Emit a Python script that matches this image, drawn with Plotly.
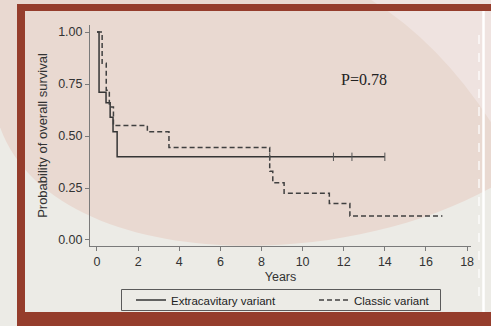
import plotly.graph_objects as go

# ---------------- data ----------------
ext_times = [0, 0.10, 0.44, 0.64, 0.78, 0.98, 14.0]
ext_surv = [1.00, 0.71, 0.66, 0.59, 0.52, 0.40, 0.40]
ext_censor_times = [8.4, 11.5, 12.4, 14.0]
ext_censor_surv = [0.40, 0.40, 0.40, 0.40]

cls_times = [0, 0.25, 0.45, 0.60, 0.80, 2.45, 3.50, 8.40, 8.55, 9.10, 11.30, 12.30, 16.8]
cls_surv = [1.00, 0.85, 0.72, 0.64, 0.55, 0.52, 0.445, 0.33, 0.275, 0.225, 0.175, 0.115, 0.115]

x_ticks = [0, 2, 4, 6, 8, 10, 12, 14, 16, 18]
y_ticks = [0, 0.25, 0.5, 0.75, 1.0]
y_tick_labels = ["0.00", "0.25", "0.50", "0.75", "1.00"]

series_names = ["Extracavitary variant", "Classic variant"]
p_text = "P=0.78"

# ---------------- layout helpers ----------------
W, H = 491, 326
L, R, T, B = 90, 20, 25, 80
PW, PH = W - L - R, H - T - B


def px(x):
    return (x - L) / PW


def py(y):
    return (H - B - y) / PH


def P(x, y):
    return f"{px(x):.4f},{py(y):.4f}"


PINK = "#e9d9d1"
LIGHTPINK = "#efe3e0"
GRAY = "#ecebe6"
BROWN = "#953d2c"

shapes = [
    # big pink region
    dict(type="path", xref="paper", yref="paper", layer="below", line_width=0,
         fillcolor=PINK,
         path=f"M {P(-5,110)} C {P(30,270)} {P(330,280)} {P(496,185)} L {P(496,-5)} L {P(-5,-5)} Z"),
    # lighter top-right region
    dict(type="path", xref="paper", yref="paper", layer="below", line_width=0,
         fillcolor=LIGHTPINK,
         path=f"M {P(363,-5)} Q {P(440,40)} {P(496,130)} L {P(496,-5)} Z"),
    # white vertical lines on the right
    dict(type="line", xref="paper", yref="paper", layer="below",
         x0=px(479), x1=px(479), y0=py(35), y1=py(300),
         line=dict(color="#ffffff", width=1.2, dash="dash")),
    dict(type="line", xref="paper", yref="paper", layer="below",
         x0=px(483.5), x1=px(483.5), y0=py(11), y1=py(312),
         line=dict(color="#ffffff", width=2.5)),
    # brown frame
    dict(type="rect", xref="paper", yref="paper", layer="below", line_width=0,
         fillcolor=BROWN, x0=px(17), x1=px(496), y0=py(4), y1=py(11)),
    dict(type="rect", xref="paper", yref="paper", layer="below", line_width=0,
         fillcolor=BROWN, x0=px(17), x1=px(25), y0=py(4), y1=py(330)),
    dict(type="rect", xref="paper", yref="paper", layer="below", line_width=0,
         fillcolor=BROWN, x0=px(17), x1=px(496), y0=py(312), y1=py(330)),
    # legend box outline
    dict(type="rect", xref="paper", yref="paper", layer="below",
         fillcolor="rgba(0,0,0,0)", line=dict(color="#5a5a5a", width=1),
         x0=px(121.5), x1=px(440.5), y0=py(289.5), y1=py(310.5)),
]

fig = go.Figure()
fig.add_trace(go.Scatter(
    x=ext_times, y=ext_surv, mode="lines", line_shape="hv",
    name=series_names[0], line=dict(color="#353535", width=1.5)))
fig.add_trace(go.Scatter(
    x=cls_times, y=cls_surv, mode="lines", line_shape="hv",
    name=series_names[1], line=dict(color="#404040", width=1.5, dash="5px,3px")))
fig.add_trace(go.Scatter(
    x=ext_censor_times, y=ext_censor_surv, mode="markers", showlegend=False,
    marker=dict(symbol="line-ns-open", size=6, color="#555555",
                line=dict(color="#555555", width=1))))

font_sans = "Liberation Sans, Arial, sans-serif"

fig.update_layout(
    width=W, height=H,
    margin=dict(l=L, r=R, t=T, b=B, pad=0, autoexpand=False),
    paper_bgcolor=GRAY,
    plot_bgcolor="rgba(0,0,0,0)",
    shapes=shapes,
    font=dict(family=font_sans, size=12, color="#333333"),
    xaxis=dict(range=[-0.34, 18.19], tickvals=x_ticks, showgrid=False, zeroline=False,
               automargin=False,
               showline=True, linecolor="#7a7a7a", linewidth=1,
               ticks="outside", ticklen=4, tickcolor="#7a7a7a",
               tickfont=dict(size=12.5, color="#333333"),
               title=dict(text="Years", font=dict(size=12.5, color="#333333"), standoff=4)),
    yaxis=dict(range=[-0.029, 1.034], tickvals=y_ticks, ticktext=y_tick_labels,
               showgrid=False, zeroline=False, automargin=False,
               showline=True, linecolor="#7a7a7a", linewidth=1,
               ticks="outside", ticklen=4, tickcolor="#7a7a7a",
               tickfont=dict(size=12.5, color="#333333"),
               title=dict(text="Probability of overall survival",
                          font=dict(size=13, color="#333333"), standoff=7)),
    legend=dict(orientation="h", x=px(131), xanchor="left", y=py(300), yanchor="middle",
                bgcolor="rgba(0,0,0,0)", borderwidth=0,
                font=dict(size=11.5, color="#222222"), entrywidth=138,
                tracegroupgap=0),
    annotations=[dict(x=12.99, y=0.77, xref="x", yref="y", text=p_text, showarrow=False,
                      font=dict(family="Liberation Serif, Times New Roman, serif",
                                size=16, color="#222222"))],
)

fig.write_html("out.html", config={"displayModeBar": False},
               post_script="document.body.style.margin='0px';document.body.style.overflow='hidden';")
